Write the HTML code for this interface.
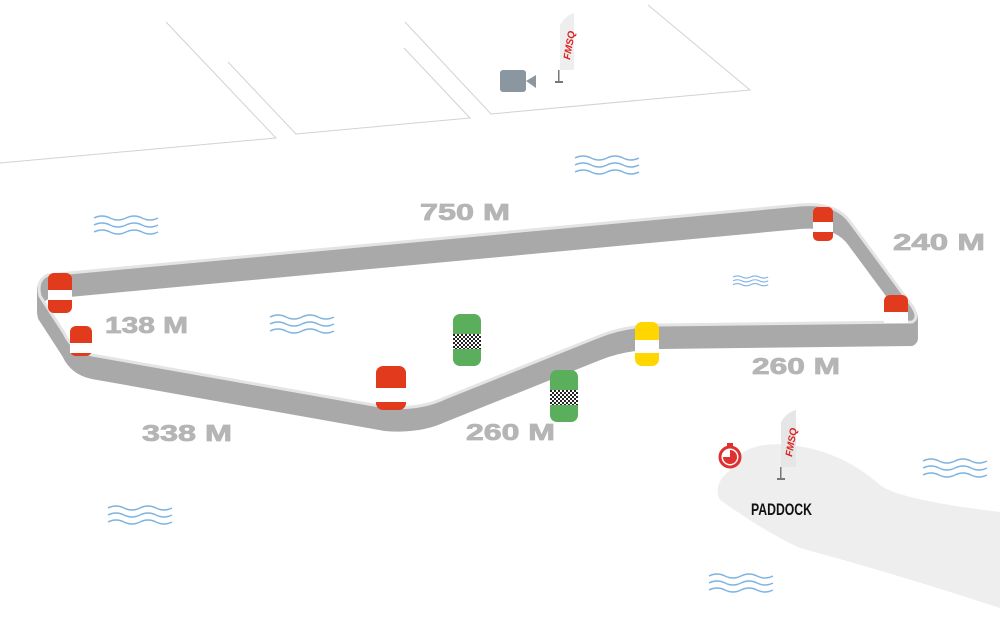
<!DOCTYPE html>
<html><head><meta charset="utf-8"><style>
html,body{margin:0;padding:0;background:#fff;width:1000px;height:628px;overflow:hidden}
svg{display:block}
.lbl{font-family:"Liberation Sans",sans-serif;font-weight:bold;font-size:23px;fill:#b5b5b5;stroke:#b5b5b5;stroke-width:0.8}
</style></head><body>
<svg width="1000" height="628" viewBox="0 0 1000 628" xmlns="http://www.w3.org/2000/svg">
<defs>
<pattern id="chk" width="4" height="4" patternUnits="userSpaceOnUse"><rect width="4" height="4" fill="#fff"/><rect width="2" height="2" fill="#222"/><rect x="2" y="2" width="2" height="2" fill="#222"/></pattern>
</defs>
<g stroke="#d2d2d2" stroke-width="1" fill="none">
<polyline points="0,163 276,138 166,22"/>
<polyline points="228,62 296,134 470,118 404,48"/>
<polyline points="405,22 491,114 750,90 648,5"/>
</g>
<!-- paddock -->
<path d="M730 470 Q740 440 790 445 Q840 450 880 485 Q900 500 1000 512 L1000 608 Q900 575 800 548 Q770 535 720 500 Q712 485 730 470 Z" fill="#eeeeee"/>
<!-- waves -->
<g fill="none" stroke="#7fb3e0" stroke-width="1.5">
<g transform="translate(575,158)"><path d="M0 0 q8 -4 16 0 t16 0 t16 0 t16 0"/><path d="M0 7 q8 -4 16 0 t16 0 t16 0 t16 0"/><path d="M0 14 q8 -4 16 0 t16 0 t16 0 t16 0"/></g>
<g transform="translate(94,218)"><path d="M0 0 q8 -4 16 0 t16 0 t16 0 t16 0"/><path d="M0 7 q8 -4 16 0 t16 0 t16 0 t16 0"/><path d="M0 14 q8 -4 16 0 t16 0 t16 0 t16 0"/></g>
<g transform="translate(270,317)"><path d="M0 0 q8 -4 16 0 t16 0 t16 0 t16 0"/><path d="M0 7 q8 -4 16 0 t16 0 t16 0 t16 0"/><path d="M0 14 q8 -4 16 0 t16 0 t16 0 t16 0"/></g>
<g transform="translate(733,277) scale(0.55)" stroke-width="2"><path d="M0 0 q8 -4 16 0 t16 0 t16 0 t16 0"/><path d="M0 7 q8 -4 16 0 t16 0 t16 0 t16 0"/><path d="M0 14 q8 -4 16 0 t16 0 t16 0 t16 0"/></g>
<g transform="translate(923,461)"><path d="M0 0 q8 -4 16 0 t16 0 t16 0 t16 0"/><path d="M0 7 q8 -4 16 0 t16 0 t16 0 t16 0"/><path d="M0 14 q8 -4 16 0 t16 0 t16 0 t16 0"/></g>
<g transform="translate(108,508)"><path d="M0 0 q8 -4 16 0 t16 0 t16 0 t16 0"/><path d="M0 7 q8 -4 16 0 t16 0 t16 0 t16 0"/><path d="M0 14 q8 -4 16 0 t16 0 t16 0 t16 0"/></g>
<g transform="translate(709,576)"><path d="M0 0 q8 -4 16 0 t16 0 t16 0 t16 0"/><path d="M0 7 q8 -4 16 0 t16 0 t16 0 t16 0"/><path d="M0 14 q8 -4 16 0 t16 0 t16 0 t16 0"/></g>
</g>
<!-- track wall -->
<g fill="none" stroke-linejoin="round" stroke-width="4">
<g stroke="#a9a9a9">
<path d="M48 275 L800 205 Q836 202 850 222 L912 306 Q920 318 912 322 L660 325 Q625 326 600 336 L445 398 Q420 410 385 407 L92 355 Q72 351 64 333 L40 296 Q36 280 48 275 Z" transform="translate(0,2)"/>
<path d="M48 275 L800 205 Q836 202 850 222 L912 306 Q920 318 912 322 L660 325 Q625 326 600 336 L445 398 Q420 410 385 407 L92 355 Q72 351 64 333 L40 296 Q36 280 48 275 Z" transform="translate(0,5)"/>
<path d="M48 275 L800 205 Q836 202 850 222 L912 306 Q920 318 912 322 L660 325 Q625 326 600 336 L445 398 Q420 410 385 407 L92 355 Q72 351 64 333 L40 296 Q36 280 48 275 Z" transform="translate(0,8)"/>
<path d="M48 275 L800 205 Q836 202 850 222 L912 306 Q920 318 912 322 L660 325 Q625 326 600 336 L445 398 Q420 410 385 407 L92 355 Q72 351 64 333 L40 296 Q36 280 48 275 Z" transform="translate(0,11)"/>
<path d="M48 275 L800 205 Q836 202 850 222 L912 306 Q920 318 912 322 L660 325 Q625 326 600 336 L445 398 Q420 410 385 407 L92 355 Q72 351 64 333 L40 296 Q36 280 48 275 Z" transform="translate(0,14)"/>
<path d="M48 275 L800 205 Q836 202 850 222 L912 306 Q920 318 912 322 L660 325 Q625 326 600 336 L445 398 Q420 410 385 407 L92 355 Q72 351 64 333 L40 296 Q36 280 48 275 Z" transform="translate(0,17)"/>
<path d="M48 275 L800 205 Q836 202 850 222 L912 306 Q920 318 912 322 L660 325 Q625 326 600 336 L445 398 Q420 410 385 407 L92 355 Q72 351 64 333 L40 296 Q36 280 48 275 Z" transform="translate(0,20)"/>
<path d="M48 275 L800 205 Q836 202 850 222 L912 306 Q920 318 912 322 L660 325 Q625 326 600 336 L445 398 Q420 410 385 407 L92 355 Q72 351 64 333 L40 296 Q36 280 48 275 Z" transform="translate(0,22)"/>
</g>
<path d="M48 275 L800 205 Q836 202 850 222 L912 306 Q920 318 912 322 L660 325 Q625 326 600 336 L445 398 Q420 410 385 407 L92 355 Q72 351 64 333 L40 296 Q36 280 48 275 Z" stroke="#e4e4e4" stroke-width="3"/>
</g>
<!-- barrels -->
<g>
<g transform="translate(48,273)"><rect width="24" height="40" rx="6" fill="#e23a1c"/><rect y="17" width="24" height="10" fill="#fff"/></g>
<g transform="translate(70,326)"><rect width="22" height="30" rx="6" fill="#e23a1c"/><rect y="17" width="22" height="10" fill="#fff"/></g>
<g transform="translate(376,366)"><rect width="30" height="44" rx="7" fill="#e23a1c"/><rect y="22" width="30" height="14" fill="#fff"/></g>
<g transform="translate(813,207)"><rect width="20" height="34" rx="5" fill="#e23a1c"/><rect y="15" width="20" height="10" fill="#fff"/></g>
<g transform="translate(884,295)"><rect width="24" height="28" rx="6" fill="#e23a1c"/><rect y="17" width="24" height="11" fill="#fff"/></g>
<g transform="translate(635,322)"><rect width="24" height="44" rx="7" fill="#ffd600"/><rect y="18" width="24" height="13" fill="#fff"/></g>
<g transform="translate(453,314)"><rect width="28" height="52" rx="7" fill="#5aae5c"/><rect y="20" width="28" height="15" fill="url(#chk)"/></g>
<g transform="translate(550,370)"><rect width="28" height="52" rx="7" fill="#5aae5c"/><rect y="20" width="28" height="15" fill="url(#chk)"/></g>
</g>
<!-- labels -->
<text class="lbl" x="420" y="220" textLength="90" lengthAdjust="spacingAndGlyphs">750 M</text>
<text class="lbl" x="893" y="250" textLength="92" lengthAdjust="spacingAndGlyphs">240 M</text>
<text class="lbl" x="105" y="333" textLength="83" lengthAdjust="spacingAndGlyphs">138 M</text>
<text class="lbl" x="142" y="441" textLength="90" lengthAdjust="spacingAndGlyphs">338 M</text>
<text class="lbl" x="466" y="440" textLength="89" lengthAdjust="spacingAndGlyphs">260 M</text>
<text class="lbl" x="752" y="374" textLength="88" lengthAdjust="spacingAndGlyphs">260 M</text>
<!-- camera -->
<rect x="500" y="70" width="26" height="22" rx="3" fill="#8a96a0"/>
<polygon points="526,81 536,75 536,88" fill="#8a96a0"/>
<!-- flags -->
<g><path d="M560 25 Q566 15 574 13 L574 70 L560 70 Z" fill="#eeeeee"/><text transform="translate(570,60) rotate(-80)" font-family="Liberation Sans,sans-serif" font-weight="bold" font-style="italic" font-size="10" fill="#d22">FMSQ</text><rect x="558" y="70" width="1.5" height="12" fill="#777"/><rect x="555" y="81" width="8" height="2" fill="#777"/></g>
<g><path d="M781 422 Q787 412 796 410 L796 467 L781 467 Z" fill="#e6e6e6"/><text transform="translate(792,457) rotate(-80)" font-family="Liberation Sans,sans-serif" font-weight="bold" font-style="italic" font-size="10" fill="#d22">FMSQ</text><rect x="780" y="467" width="1.5" height="12" fill="#777"/><rect x="777" y="478" width="8" height="2" fill="#777"/></g>
<!-- stopwatch -->
<circle cx="730" cy="457" r="10" fill="none" stroke="#e03030" stroke-width="3"/>
<path d="M730 457 L730 450 A7 7 0 1 1 723 457 Z" fill="#e03030"/>
<rect x="727" y="443" width="6" height="3" fill="#e03030"/>
<text x="751" y="515" font-family="Liberation Sans,sans-serif" font-weight="bold" font-size="17" fill="#111" textLength="61" lengthAdjust="spacingAndGlyphs">PADDOCK</text>
</svg>
</body></html>
